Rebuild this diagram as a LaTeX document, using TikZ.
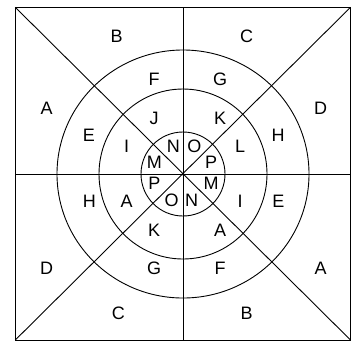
\documentclass[tikz,border=0pt]{standalone}
\usepackage{fontspec}
\setmainfont{Liberation Sans}
\begin{document}
\begin{tikzpicture}[x=1pt,y=-1pt,line width=0.9pt,
  lbl/.style={inner sep=0pt,font=\fontsize{18}{18}\selectfont}]
\useasboundingbox (0,0) rectangle (352,341);
\coordinate (tl) at (15.3,7.3);
\coordinate (tr) at (350.5,7.3);
\coordinate (bl) at (15.3,340);
\coordinate (br) at (350.5,340);
\coordinate (c) at (183,174);
\coordinate (tm) at (183,7.3);
\coordinate (bm) at (183,340);
\coordinate (lm) at (15.3,174);
\coordinate (rm) at (350.5,174);
\draw (tl) rectangle (br);
\draw (tl) -- (br);
\draw (tr) -- (bl);
\draw (tm) -- (bm);
\draw (lm) -- (rm);
\draw (c) ellipse [x radius=126, y radius=124];
\draw (c) ellipse [x radius=84, y radius=85];
\draw (c) circle [radius=42];
\fill (c) circle [radius=1.5];
\node[lbl] (b1) at (116.7,36.7) {B};
\node[lbl] (c1) at (246.7,36.7) {C};
\node[lbl] (f1) at (154,79) {F};
\node[lbl] (g1) at (220,79) {G};
\node[lbl] (a1) at (46.7,108) {A};
\node[lbl] (d1) at (320.7,108) {D};
\node[lbl] (j1) at (154,118) {J};
\node[lbl] (k1) at (220,118) {K};
\node[lbl] (e1) at (89,135) {E};
\node[lbl] (h1) at (278,135) {H};
\node[lbl] (i1) at (126.7,146.7) {I};
\node[lbl] (l1) at (240,146.7) {L};
\node[lbl] (n1) at (173.3,146.7) {N};
\node[lbl] (o1) at (194.3,146.7) {O};
\node[lbl] (m1) at (154.3,162.3) {M};
\node[lbl] (p1) at (211,162.3) {P};
\node[lbl] (p2) at (154.3,183.3) {P};
\node[lbl] (m2) at (211,183.3) {M};
\node[lbl] (o2) at (171.7,200) {O};
\node[lbl] (n2) at (191.7,200) {N};
\node[lbl] (h2) at (89.3,201) {H};
\node[lbl] (a2) at (126.7,201) {A};
\node[lbl] (i2) at (240,201) {I};
\node[lbl] (e2) at (278.3,201) {E};
\node[lbl] (k2) at (154,230) {K};
\node[lbl] (a3) at (220,230) {A};
\node[lbl] (d2) at (46.7,268.3) {D};
\node[lbl] (a4) at (320.7,268.3) {A};
\node[lbl] (g2) at (154,268.3) {G};
\node[lbl] (f2) at (220,268.3) {F};
\node[lbl] (c2) at (118.3,313.3) {C};
\node[lbl] (b2) at (246.7,313.3) {B};
\end{tikzpicture}
\end{document}
